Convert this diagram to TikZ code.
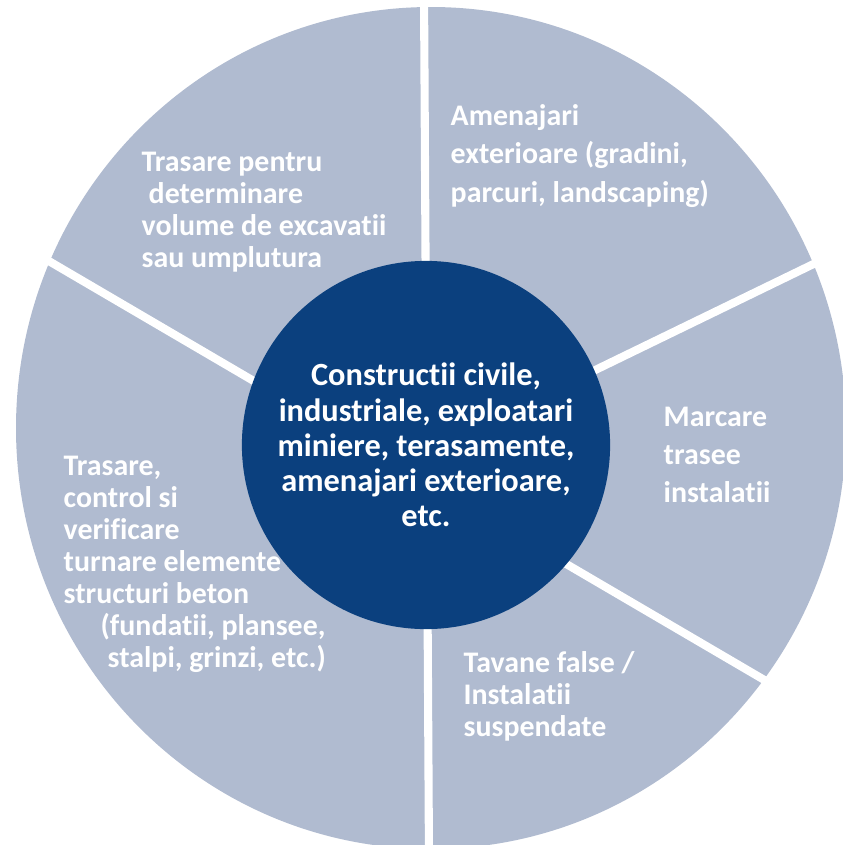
\documentclass[tikz,border=0pt]{standalone}
\usepackage{fontspec}
\setmainfont{Carlito}[RawFeature={-liga;-clig;-dlig}]
\definecolor{slice}{RGB}{176,187,208}
\definecolor{hubblue}{RGB}{11,64,126}
\tikzset{
  slicetext/.style={text=white, inner sep=0pt, anchor=west, align=left,
    font=\bfseries\fontsize{8.5}{#1}\selectfont},
  slicetext/.default=9.1,
  gap/.style={draw=white, line width=2.3pt},
  hub/.style={circle, fill=hubblue, text=white, inner sep=0pt,
    minimum size=3.68cm, align=center,
    font=\bfseries\fontsize{9.2}{10}\selectfont}
}
\begin{document}
\begin{tikzpicture}[x=0.01cm, y=-0.01cm]
    \clip (0,0) rectangle (843,845);
    \fill[slice] (431,428) ellipse [x radius=415, y radius=421];

    \coordinate (n) at (424,-10);
    \coordinate (s) at (429,860);
    \coordinate (nw) at (30,250);
    \coordinate (se) at (790,695);
    \coordinate (ne) at (830,256);
    \coordinate (core) at (480,426);
    \draw[gap] (n) -- (s);
    \draw[gap] (nw) -- (se);
    \draw[gap] (ne) -- (core);

    \node[hub] (hub) at (426,445) {Constructii civile,\\industriale, exploatari\\miniere, terasamente,\\amenajari exterioare,\\etc.};

    \node[slicetext] (dig) at (141,212) {Trasare pentru\\\hspace*{2pt}determinare\\volume de excavatii\\sau umplutura};
    \node[slicetext=11] (yard) at (450,156) {Amenajari\\exterioare (gradini,\\parcuri, landscaping)};
    \node[slicetext=10.8] (mark) at (663,455) {Marcare\\trasee\\instalatii};
    \node[slicetext] (ceil) at (463,696) {Tavane false /\\Instalatii\\suspendate};
    \node[slicetext] (cast) at (63,564) {Trasare,\\control si\\verificare\\turnare elemente\\structuri beton\\\hspace*{10.5pt}(fundatii, plansee,\\\hspace*{12.5pt}stalpi, grinzi, etc.)};
\end{tikzpicture}
\end{document}
